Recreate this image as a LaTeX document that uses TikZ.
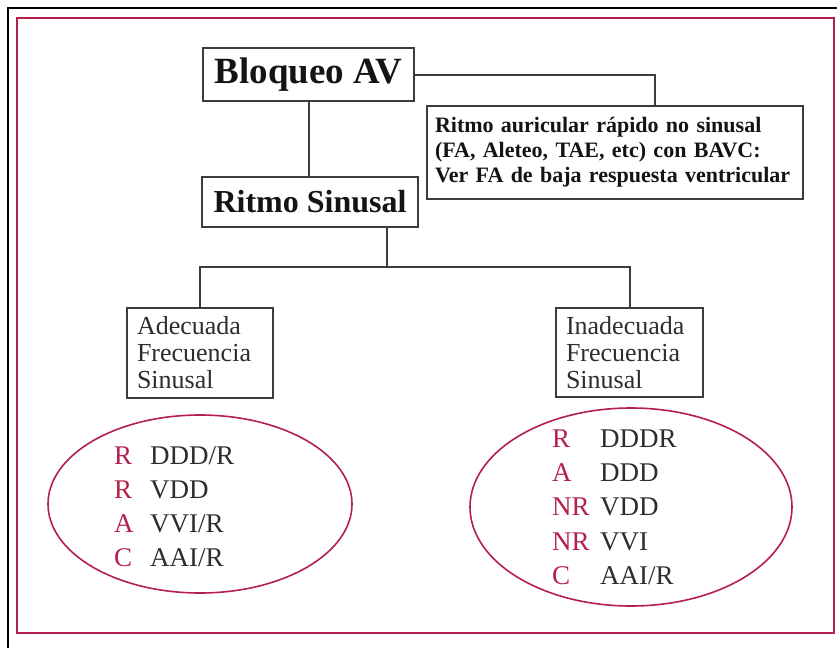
\documentclass[tikz,border=0pt]{standalone}
\usepackage{fontspec}
\setmainfont{Liberation Serif}
\usetikzlibrary{shapes.geometric}
\definecolor{crim}{RGB}{180,32,74}
\definecolor{boxline}{RGB}{60,60,60}
\definecolor{txt}{RGB}{45,45,45}
\definecolor{btxt}{RGB}{20,20,20}
\begin{document}
\begin{tikzpicture}[x=1pt,y=-1pt,
 box/.style={draw=boxline,line width=2pt,inner sep=0pt,fill=white},
 conn/.style={draw=boxline,line width=2pt},
 oval/.style={draw=crim,line width=1.6pt,ellipse,inner sep=0pt},
 lett/.style={text=crim,anchor=base west,inner sep=0pt,font=\fontsize{27}{27}\selectfont},
 code/.style={text=txt,anchor=base west,inner sep=0pt,font=\fontsize{27}{27}\selectfont}]
\useasboundingbox (0,0) rectangle (837,648);
\fill[white] (0,0) rectangle (837,648);
\draw[black,line width=2pt] (8,648) -- (8,8) -- (837,8);
\draw[crim,line width=2.8pt] (17,18) rectangle (834,633);

\node[box,minimum width=211,minimum height=53,text=btxt,font=\bfseries\fontsize{37}{37}\selectfont] (bloq) at (308.5,74.5) {Bloqueo AV};
\node[box,text width=360,inner xsep=8,minimum height=93,align=left,text=btxt,font=\bfseries\fontsize{22}{25}\selectfont] (rar) at (615,152.5) {Ritmo auricular rápido no sinusal\\(FA,\ Aleteo, TAE, etc) con BAVC:\\Ver\ FA de\ baja respuesta ventricular};
\node[box,minimum width=216,minimum height=50,text=btxt,font=\bfseries\fontsize{32}{32}\selectfont] (rs) at (310,202) {Ritmo Sinusal};
\node[box,text width=126,inner xsep=10,minimum height=90,align=left,text=txt,font=\fontsize{26}{27}\selectfont] (ade) at (200,353) {Adecuada\\Frecuencia\\Sinusal};
\node[box,text width=127,inner xsep=10,minimum height=89,align=left,text=txt,font=\fontsize{26}{27}\selectfont] (inade) at (629.5,352.5) {Inadecuada\\Frecuencia\\Sinusal};

\coordinate (j) at (387,267);
\draw[conn] (bloq.south) -- (bloq.south |- rs.north);
\draw[conn] (bloq.east) -| ([xshift=40]rar.north);
\draw[conn,line width=2.8pt] (rs.south -| j) -- (j);
\draw[conn] (ade.north) |- (j) -| (inade.north);

\node[oval,minimum width=304,minimum height=178] (e1) at (200,504) {};
\node[oval,minimum width=322,minimum height=198] (e2) at (631,507) {};

\node[lett] (l1) at (114,464) {R};
\node[code] (c1) at (150,464) {DDD/R};
\node[lett] (l2) at (114,498) {R};
\node[code] (c2) at (150,498) {VDD};
\node[lett] (l3) at (114,532) {A};
\node[code] (c3) at (150,532) {VVI/R};
\node[lett] (l4) at (114,566) {C};
\node[code] (c4) at (150,566) {AAI/R};

\node[lett] (r1) at (552,447) {R};
\node[code] (d1) at (600,447) {DDDR};
\node[lett] (r2) at (552,481) {A};
\node[code] (d2) at (600,481) {DDD};
\node[lett] (r3) at (552,515) {NR};
\node[code] (d3) at (600,515) {VDD};
\node[lett] (r4) at (552,550) {NR};
\node[code] (d4) at (600,550) {VVI};
\node[lett] (r5) at (552,584) {C};
\node[code] (d5) at (600,584) {AAI/R};
\end{tikzpicture}
\end{document}
